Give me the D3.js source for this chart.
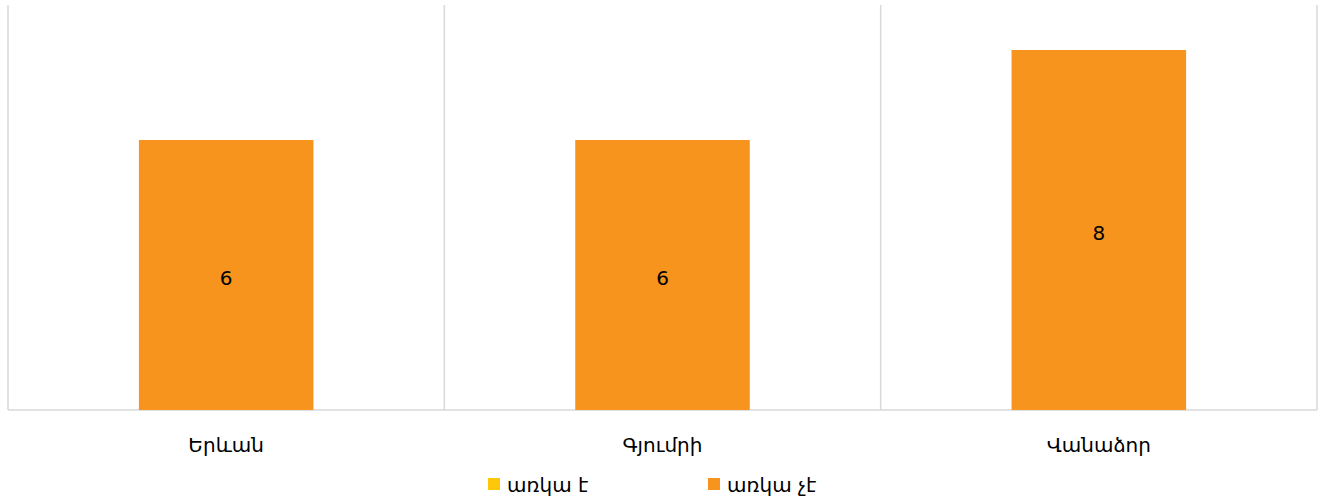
<!DOCTYPE html>
<html><head><meta charset="utf-8">
<script src="https://cdn.jsdelivr.net/npm/d3@7"></script>
<style>body{margin:0;background:#fff}svg{display:block}text{font-family:"DejaVu Sans",sans-serif}</style>
</head><body><svg id="c" width="1323" height="501"></svg>
<script>
const categories = ["Երևան", "Գյումրի", "Վանաձոր"];
const seriesNames = ["առկա է", "առկա չէ"];
const valuesAvailable = [0, 0, 0];
const valuesNotAvailable = [6, 6, 8];
const colors = ["#FFC709", "#F7941E"];
const yMax = 9;

(function(){
const svg = d3.select("#c");
const pl = 8, pr = 1317, pt = 5, pb = 410;
const x = d3.scaleBand().domain(categories).range([pl, pr]).padding(0);
const y = d3.scaleLinear().domain([0, yMax]).range([pb, pt]);

const data = categories.map((c, i) => ({cat: c, [seriesNames[0]]: valuesAvailable[i], [seriesNames[1]]: valuesNotAvailable[i]}));
const stack = d3.stack().keys(seriesNames)(data);

const bounds = categories.map(c => x(c)).concat([pr]);
svg.append("g").selectAll("line").data(bounds).join("line")
  .attr("x1", d => d).attr("x2", d => d).attr("y1", pt).attr("y2", pb)
  .attr("stroke", "#d9d9d9").attr("stroke-width", 1.5);
svg.append("line").attr("x1", pl).attr("x2", pr).attr("y1", pb).attr("y2", pb)
  .attr("stroke", "#d9d9d9").attr("stroke-width", 1.5);

const bw = x.bandwidth() * 0.4;
stack.forEach((s, si) => {
  const g = svg.append("g");
  g.selectAll("rect").data(s).join("rect")
    .attr("x", d => x(d.data.cat) + (x.bandwidth() - bw) / 2)
    .attr("width", bw)
    .attr("y", d => y(d[1]))
    .attr("height", d => y(d[0]) - y(d[1]))
    .attr("fill", colors[si]);
  g.selectAll("text").data(s.filter(d => d[1] - d[0] > 0)).join("text")
    .attr("x", d => x(d.data.cat) + x.bandwidth() / 2)
    .attr("y", d => (y(d[0]) + y(d[1])) / 2 + 10)
    .attr("text-anchor", "middle").attr("font-size", 20).attr("fill", "#000")
    .text(d => d[1] - d[0]);
});

svg.append("g").selectAll("text").data(categories).join("text")
  .attr("x", d => x(d) + x.bandwidth() / 2).attr("y", 452)
  .attr("text-anchor", "middle").attr("font-size", 20).attr("fill", "#000").text(d => d);

const legX = [488, 708];
const lg = svg.append("g").selectAll("g").data(seriesNames).join("g")
  .attr("transform", (d, i) => `translate(${legX[i]},478)`);
lg.append("rect").attr("width", 12).attr("height", 12).attr("fill", (d, i) => colors[i]);
lg.append("text").attr("x", 19).attr("y", 14).attr("font-size", 20).attr("fill", "#000").text(d => d);
})();
</script></body></html>
